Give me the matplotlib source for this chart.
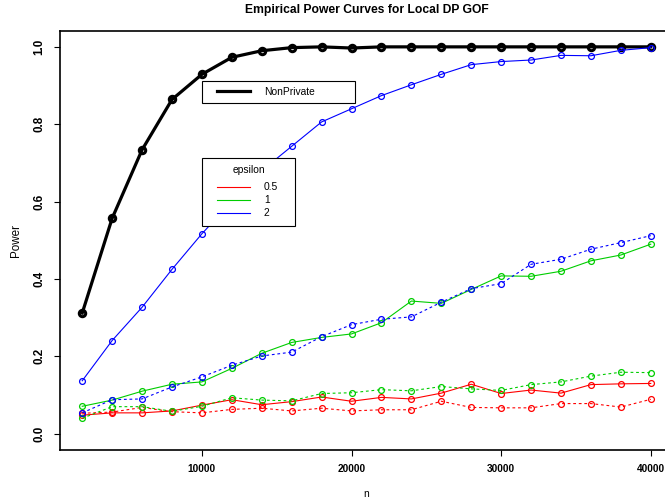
import matplotlib
matplotlib.use("Agg")
import matplotlib.pyplot as plt
from matplotlib.lines import Line2D
from matplotlib.legend_handler import HandlerLine2D

plt.rcParams['font.family'] = ['Liberation Sans', 'DejaVu Sans']

# sample sizes
n = [2000, 4000, 6000, 8000, 10000, 12000, 14000, 16000, 18000, 20000,
     22000, 24000, 26000, 28000, 30000, 32000, 34000, 36000, 38000, 40000]

# power
nonprivate = [0.312, 0.557, 0.734, 0.864, 0.929, 0.973, 0.990, 0.998, 1.000, 0.997,
              1.000, 1.000, 1.000, 1.000, 1.000, 1.000, 1.000, 1.000, 1.000, 1.000]
eps2_solid = [0.137, 0.241, 0.327, 0.425, 0.517, 0.600, 0.680, 0.743, 0.806, 0.840,
              0.874, 0.902, 0.929, 0.954, 0.962, 0.966, 0.978, 0.977, 0.991, 0.998]
eps2_dot = [0.054, 0.088, 0.090, 0.121, 0.147, 0.177, 0.201, 0.211, 0.251, 0.282,
            0.296, 0.302, 0.340, 0.375, 0.388, 0.438, 0.451, 0.477, 0.494, 0.512]
eps1_solid = [0.071, 0.087, 0.110, 0.128, 0.134, 0.169, 0.208, 0.236, 0.249, 0.258,
              0.287, 0.343, 0.337, 0.373, 0.408, 0.407, 0.420, 0.447, 0.462, 0.490]
eps1_dot = [0.040, 0.070, 0.070, 0.058, 0.071, 0.093, 0.087, 0.085, 0.104, 0.106,
            0.114, 0.111, 0.122, 0.116, 0.112, 0.127, 0.134, 0.149, 0.159, 0.158]
eps05_solid = [0.048, 0.054, 0.054, 0.059, 0.074, 0.088, 0.075, 0.083, 0.095, 0.084,
               0.094, 0.090, 0.105, 0.128, 0.104, 0.113, 0.105, 0.127, 0.129, 0.130]
eps05_dot = [0.053, 0.056, 0.068, 0.057, 0.054, 0.063, 0.066, 0.059, 0.066, 0.059,
             0.062, 0.062, 0.084, 0.068, 0.067, 0.067, 0.078, 0.078, 0.069, 0.089]

eps_labels = ['0.5', '1', '2']
eps_colors = ['#FF0000', '#00CD00', '#0000FF']
xticks = [10000, 20000, 30000, 40000]
yticks = [0.0, 0.2, 0.4, 0.6, 0.8, 1.0]

W, H = 665, 504
fig = plt.figure(figsize=(W / 100, H / 100), dpi=100)
ax = fig.add_axes([59.5 / W, (H - 450) / H, 614 / W, 419 / H])

ax.plot(n, nonprivate, color='black', lw=2.3, marker='o', ms=4.6,
        mfc='none', mew=2.2, zorder=2)

solid = [eps05_solid, eps1_solid, eps2_solid]
dotted = [eps05_dot, eps1_dot, eps2_dot]
for vals, col in zip(solid, eps_colors):
    ax.plot(n, vals, color=col, lw=0.8, marker='o', ms=4.2, mfc='none',
            mew=0.9, zorder=3)
for vals, col in zip(dotted, eps_colors):
    ax.plot(n, vals, color=col, lw=0.8, dashes=(2.5, 2.5), marker='o', ms=4.2,
            mfc='none', mew=0.9, zorder=3)

ax.set_xlim(480, 41520)
ax.set_ylim(-0.042, 1.041)
ax.set_xticks(xticks)
ax.set_xticklabels([str(v) for v in xticks], fontsize=7.3, fontweight='bold')
ax.set_yticks(yticks)
ax.set_yticklabels(['%.1f' % v for v in yticks], fontsize=8.4, fontweight='bold',
                   rotation=90, va='center')
ax.tick_params(axis='both', direction='out', length=4.3, width=0.8)
ax.tick_params(axis='x', pad=5.5)
ax.tick_params(axis='y', pad=6)
for sp in ax.spines.values():
    sp.set_linewidth(1.2)

ax.set_xlabel('n', fontsize=7.3)
ax.xaxis.label.set_va('center')
ax.xaxis.set_label_coords(0.5, (450 - 494) / 419)
ax.set_ylabel('Power', fontsize=8.4)
ax.yaxis.label.set_va('center')
ax.yaxis.set_label_coords((16 - 59.5) / 614, 0.5)

fig.text(366.5 / W, 1 - 9.5 / H, 'Empirical Power Curves for Local DP GOF',
         ha='center', va='center', fontsize=8.75, fontweight='bold')

fs = 7.4
pxfs = fs * 100 / 72
# NonPrivate legend
bp1 = 0.6
h1 = [Line2D([0], [0], color='black', lw=2.3)]
leg1 = ax.legend(h1, ['NonPrivate'], loc='upper left', mode='expand',
                 bbox_to_anchor=(202 / W, 1 - 85.7 / H, 152.5 / W, 0.01),
                 bbox_transform=fig.transFigure, borderaxespad=0,
                 fontsize=fs, fancybox=False, framealpha=1, edgecolor='black',
                 borderpad=bp1, handlelength=(250 - 202 - bp1 * pxfs) / pxfs,
                 handletextpad=14 / pxfs,
                 handler_map={Line2D: HandlerLine2D(xpad=(217 - 202 - bp1 * pxfs) / pxfs)})
leg1.get_frame().set_linewidth(0.8)
leg1.set_zorder(5)
ax.add_artist(leg1)

# epsilon legend
bp2 = 0.75
h2 = [Line2D([0], [0], color=c, lw=0.8) for c in eps_colors]
leg2 = ax.legend(h2, eps_labels, title='epsilon', loc='upper left', mode='expand',
                 bbox_to_anchor=(202 / W, 1 - 162.7 / H, 93.3 / W, 0.01),
                 bbox_transform=fig.transFigure, borderaxespad=0,
                 fontsize=fs, title_fontsize=fs, fancybox=False, framealpha=1,
                 edgecolor='black', borderpad=bp2, labelspacing=0.3,
                 handlelength=(250 - 202 - bp2 * pxfs) / pxfs,
                 handletextpad=14 / pxfs,
                 handler_map={Line2D: HandlerLine2D(xpad=(217 - 202 - bp2 * pxfs) / pxfs)})
leg2.get_frame().set_linewidth(0.8)
leg2._legend_box.sep = 5
leg2.set_zorder(5)

fig.savefig('out.png', dpi=100)
